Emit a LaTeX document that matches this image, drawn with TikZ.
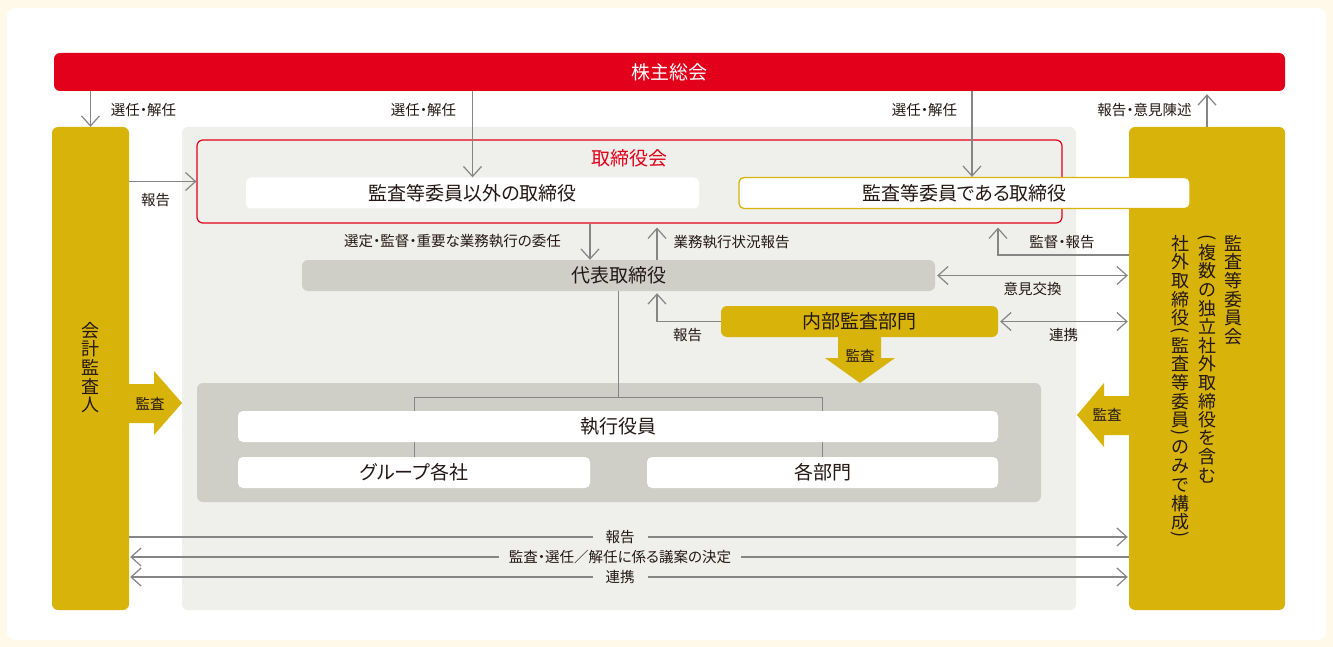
\documentclass[tikz,border=0pt]{standalone}
\usepackage{fontspec}
\usepackage{graphicx}
\usetikzlibrary{arrows.meta}
\newfontfamily\jp[RawFeature=+palt]{Noto Sans CJK JP}
\newfontfamily\jpv{Noto Sans CJK JP}
\definecolor{cream}{HTML}{FEF9E9}
\definecolor{redz}{HTML}{E2001A}
\definecolor{goldz}{HTML}{D8B30A}
\definecolor{panelz}{HTML}{EFEFEB}
\definecolor{dgrayz}{HTML}{CFCFC7}
\definecolor{lgrayz}{HTML}{858585}
\definecolor{txtz}{HTML}{231815}
\newcommand\fbig{\jp\fontsize{19}{22}\selectfont}
\newcommand\flbl{\jp\fontsize{14.5}{17}\selectfont}
\newcommand\VO{(}
\newcommand\VC{)}
\newcommand\vslot[2]{\hbox to 22pt{\hss\vbox to #1{\vss\hbox{#2}\vss}\hss}}
\def\vtxtloop#1{\ifx#1\relax\else
  \ifx#1\VO\vslot{9pt}{\rotatebox[origin=c]{-90}{(}}\else
  \ifx#1\VC\vslot{9pt}{\rotatebox[origin=c]{-90}{)}}\else
  \vslot{18.6pt}{\vphantom{国}#1}\fi\fi
  \expandafter\vtxtloop\fi}
\newcommand\vtxt[1]{\vbox{\offinterlineskip\vtxtloop#1\relax}}
\begin{document}
\begin{tikzpicture}[x=1pt,y=-1pt,
  rect/.style={rectangle, rounded corners=6pt, inner sep=0pt, text=txtz},
  wbox/.style={rect, fill=white, rounded corners=5pt, minimum height=31pt, font=\fbig},
  lbl/.style={font=\flbl, text=txtz, inner sep=0pt},
  ln/.style={draw=lgrayz, line width=1.2pt},
  arr/.style={ln, -{Straight Barb[length=10pt,width=18pt]}},
  larr/.style={ln, {Straight Barb[length=10pt,width=18pt]}-},
  darr/.style={ln, {Straight Barb[length=10pt,width=18pt]}-{Straight Barb[length=10pt,width=18pt]}},
  vt/.style={inner sep=0pt, anchor=north, text=txtz, font=\jpv\fontsize{18}{18}\selectfont},
  blk/.style={fill=goldz}]
\fill[cream] (0,0) rectangle (1333,647);
\useasboundingbox (0,0) rectangle (1333,647);
\fill[white, rounded corners=8pt] (7,8) rectangle (1326,640);
% main blocks
\node[rect, fill=redz, minimum width=1231pt, minimum height=38pt, text=white, font=\fbig] (sh) at (669.5,72) {株主総会};
\node[rect, fill=goldz, minimum width=77pt, minimum height=483pt] (ka) at (90.5,368.5) {};
\node[rect, fill=goldz, minimum width=156pt, minimum height=483pt] (ac) at (1207,368.5) {};
\node[rect, fill=panelz, minimum width=894pt, minimum height=483pt] (pn) at (629,368.5) {};
\node[rect, draw=redz, line width=1.2pt, minimum width=865pt, minimum height=83pt] (bd) at (629.5,181.5) {};
\node[font=\fbig, text=redz, inner sep=0pt] (bdl) at (629.5,158) {取締役会};
\node[wbox, minimum width=453pt] (d1) at (472.5,193) {監査等委員以外の取締役};
\node[wbox, draw=goldz, line width=1.3pt, minimum width=451pt] (d2) at (964.5,193) {監査等委員である取締役};
\node[rect, fill=dgrayz, minimum width=633pt, minimum height=31pt, font=\fbig] (rep) at (618.5,275.5) {代表取締役};
\node[rect, fill=goldz, minimum width=277pt, minimum height=31pt, font=\fbig] (ia) at (859.5,321.5) {内部監査部門};
\node[rect, fill=dgrayz, minimum width=844pt, minimum height=119pt] (ex) at (619,442.5) {};
\node[wbox, minimum width=352pt] (gr) at (414,472.5) {グループ各社};
\node[wbox, minimum width=351pt] (dp) at (822.5,472.5) {各部門};
% tree lines
\coordinate (rail) at (0,397);
\draw[draw=lgrayz, line width=1pt] (rep.south) -- (rep.south |- rail);
\draw[draw=lgrayz, line width=1pt] (gr.north) -- (gr.north |- rail) -- (dp.north |- rail) -- (dp.north);
\node[wbox, minimum width=760pt] (eo) at (618,426.5) {執行役員};
% block arrows
\fill[blk] (128,384) -- (154,384) -- (154,371) -- (182,403) -- (154,435) -- (154,423) -- (128,423) -- cycle;
\node[lbl] (la1) at (150,404) {監査};
\fill[blk] (1130,396) -- (1104,396) -- (1104,383) -- (1077,415) -- (1104,447) -- (1104,435) -- (1130,435) -- cycle;
\node[lbl] (la2) at (1107,415) {監査};
\fill[blk] (838,336) -- (881,336) -- (881,358) -- (895,358) -- (860,383) -- (825,358) -- (838,358) -- cycle;
\node[lbl] (la3) at (860,356) {監査};
% helper coordinates
\coordinate (x590) at (590,0);
\coordinate (x657) at (657,0);
\coordinate (x972) at (972,0);
\coordinate (x998) at (998,0);
\coordinate (y255) at (0,255);
\coordinate (y537) at (0,537);
\coordinate (y557) at (0,557);
\coordinate (y577) at (0,577);
% connectors
\draw[arr] (sh.south -| ka.north) -- (ka.north);
\node[lbl] (t1) at (143.5,110) {選任・解任};
\draw[arr] (sh.south -| d1.north) -- (d1.north);
\node[lbl] (t2) at (423.5,110) {選任・解任};
\draw[arr] (sh.south -| x972) -- (d2.north -| x972);
\node[lbl] (t3) at (924.5,110) {選任・解任};
\draw[arr, shorten >=3pt] (ac.north) -- (ac.north |- sh.south);
\node[lbl] (t4) at (1144.5,110) {報告・意見陳述};
\draw[arr] (ka.east |- bd.west) -- (bd.west);
\node[lbl] (t5) at (155.5,200) {報告};
\draw[arr] (bd.south -| x590) -- (rep.north -| x590);
\node[lbl] (t6) at (452.5,241) {選定・監督・重要な業務執行の委任};
\draw[arr, shorten >=4pt] (rep.north -| x657) -- (bd.south -| x657);
\node[lbl] (t7) at (731.5,242) {業務執行状況報告};
\draw[arr, shorten >=4pt] (ac.west |- y255) -- (x998 |- y255) -- (bd.south -| x998);
\node[lbl] (t8) at (1062,242) {監督・報告};
\draw[darr, shorten <=2pt, shorten >=1pt] (rep.east) -- (ac.west |- rep.east);
\node[lbl] (t9) at (1032.5,289.5) {意見交換};
\draw[darr, shorten <=2pt, shorten >=1pt] (ia.east) -- (ac.west |- ia.east);
\node[lbl] (t10) at (1063.5,335) {連携};
\draw[arr, shorten >=2pt] (ia.west) -| (rep.south -| x657);
\node[lbl] (t11) at (687.5,335) {報告};
% bottom connectors
\draw[arr, shorten >=1pt] (ka.east |- y537) -- (ac.west |- y537) node[lbl, fill=panelz, inner xsep=13pt, inner ysep=2pt, pos=0.491] (t12) {報告};
\draw[larr, shorten <=1pt] (ka.east |- y557) -- (ac.west |- y557) node[lbl, fill=panelz, inner xsep=10pt, inner ysep=2pt, pos=0.491] (t13) {監査・選任／解任に係る議案の決定};
\draw[darr, shorten <=1pt, shorten >=1pt] (ka.east |- y577) -- (ac.west |- y577) node[lbl, fill=panelz, inner xsep=13pt, inner ysep=2pt, pos=0.491] (t14) {連携};
% vertical texts
\node[vt] (kat) at (90.5,321) {\vtxt{会計監査人}};
\node[vt] (ac1) at (1233,234) {\vtxt{監査等委員会}};
\node[vt] (ac2) at (1207,234) {\vtxt{\VO 複数の独立社外取締役を含む}};
\node[vt] (ac3) at (1180,234) {\vtxt{社外取締役\VO 監査等委員\VC のみで構成\VC}};
\end{tikzpicture}
\end{document}
